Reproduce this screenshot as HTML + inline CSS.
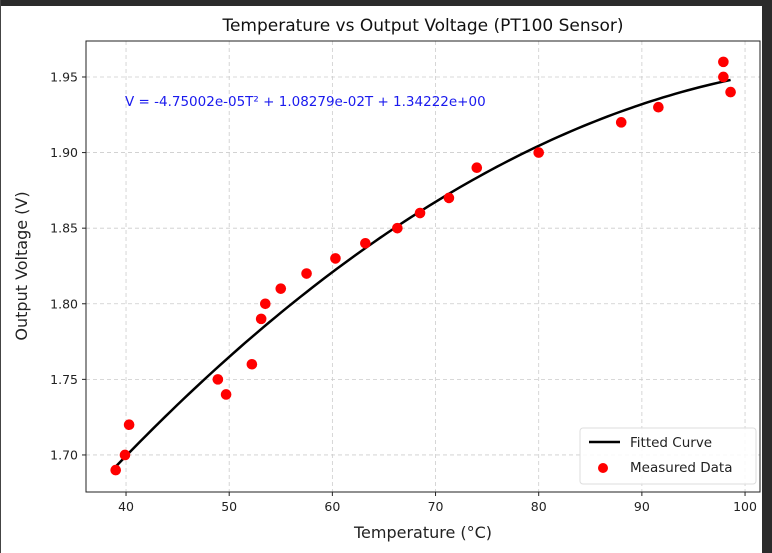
<!DOCTYPE html>
<html><head><meta charset="utf-8"><style>
html,body{margin:0;padding:0;background:#fff}
svg{display:block;font-family:"DejaVu Sans","Liberation Sans",sans-serif}
</style></head><body>
<svg width="772" height="553" viewBox="0 0 772 553">
<rect x="0" y="0" width="772" height="553" fill="#fff"/>
<rect x="0" y="0" width="772" height="6" fill="#2b2b2b"/>
<rect x="762" y="0" width="10" height="553" fill="#2b2b2b"/>
<rect x="0" y="0" width="1" height="553" fill="#444"/>
<text x="423" y="31" text-anchor="middle" font-size="17" fill="#111">Temperature vs Output Voltage (PT100 Sensor)</text>
<g id="grid"></g>
<g id="curve"></g>
<g id="points"></g>
<rect x="86" y="41" width="674" height="451" fill="none" stroke="#222" stroke-width="1"/>
<g id="axes"></g>
<text x="125" y="106" font-size="13.5" fill="#1a1aee">V = -4.75002e-05T² + 1.08279e-02T + 1.34222e+00</text>
<text x="423" y="538" text-anchor="middle" font-size="16" fill="#222">Temperature (°C)</text>
<text transform="translate(27,266) rotate(-90)" text-anchor="middle" font-size="16" fill="#222">Output Voltage (V)</text>
<g>
<rect x="580" y="428" width="176" height="56" rx="3" fill="#fff" fill-opacity="0.85" stroke="#ddd"/>
<line x1="589" y1="442" x2="620" y2="442" stroke="#000" stroke-width="2.5"/>
<text x="630" y="447" font-size="13.5" fill="#222">Fitted Curve</text>
<circle cx="603" cy="468" r="5" fill="#f00"/>
<text x="630" y="472" font-size="13.5" fill="#222">Measured Data</text>
</g>
</svg>
<script>
const temps=[39,39.9,40.3,48.9,49.7,52.2,53.1,53.5,55,57.5,60.3,63.2,66.3,68.5,71.3,74,80,88,91.6,97.9,97.9,98.6];
const volts=[1.69,1.70,1.72,1.75,1.74,1.76,1.79,1.80,1.81,1.82,1.83,1.84,1.85,1.86,1.87,1.89,1.90,1.92,1.93,1.96,1.95,1.94];
const coefA=-4.75002e-05, coefB=1.08279e-02, coefC=1.34222;
const xTicks=[40,50,60,70,80,90,100];
const yTicks=[1.70,1.75,1.80,1.85,1.90,1.95];
const fitRange=[39,98.6];
const NS="http://www.w3.org/2000/svg";
const X0=86,X1=760,Y0=41,Y1=492,xmin=36.12,xmax=101.45,ymin=1.6755,ymax=1.9738;
const sx=v=>X0+(v-xmin)/(xmax-xmin)*(X1-X0);
const sy=v=>Y1-(v-ymin)/(ymax-ymin)*(Y1-Y0);
function mk(tag,attrs,parent){const e=document.createElementNS(NS,tag);for(const k in attrs)e.setAttribute(k,attrs[k]);parent.appendChild(e);return e;}
const grid=document.getElementById('grid'),axes=document.getElementById('axes');
xTicks.forEach(t=>{const x=sx(t);
 const g=mk('line',{x1:x,x2:x,y1:Y0,y2:Y1,stroke:'#ccc','stroke-dasharray':'4,3','stroke-width':0.8},grid);
 
 
 const tk=mk('line',{x1:x,x2:x,y1:Y1,y2:Y1+4,stroke:'#222'},axes);
 
 
 const tx=mk('text',{x:x,y:Y1+19,'text-anchor':'middle','font-size':12.5,fill:'#222'},axes);tx.textContent=t;
 
 
});
yTicks.forEach(t=>{const y=sy(t);
 const g=mk('line',{x1:X0,x2:X1,y1:y,y2:y,stroke:'#ccc','stroke-dasharray':'4,3','stroke-width':0.8},grid);
 
 
 const tk=mk('line',{x1:X0-4,x2:X0,y1:y,y2:y,stroke:'#222'},axes);
 
 
 const tx=mk('text',{x:X0-8,y:y+4.5,'text-anchor':'end','font-size':12.5,fill:'#222'},axes);tx.textContent=t.toFixed(2);
 
 
});
let d='';
for(let i=0;i<=100;i++){const t=fitRange[0]+(fitRange[1]-fitRange[0])*i/100;const v=coefA*t*t+coefB*t+coefC;d+=(i?'L':'M')+sx(t).toFixed(2)+','+sy(v).toFixed(2);}
const p=mk('path',{d:d,fill:'none',stroke:'#000','stroke-width':2.5},document.getElementById('curve'));


const pts=document.getElementById('points');
temps.forEach((t,i)=>{const c=mk('circle',{cx:sx(t),cy:sy(volts[i]),r:5.3,fill:'#f00'},pts);
 
 
});
</script>
</body></html>
